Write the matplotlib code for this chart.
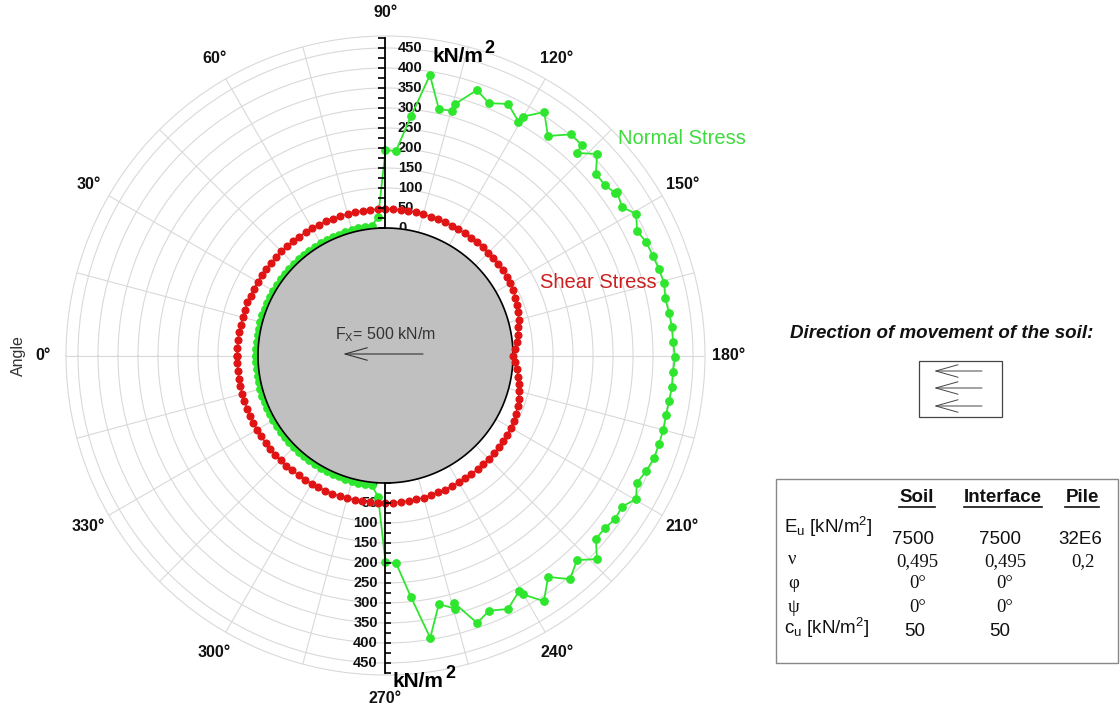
import numpy as np
import matplotlib
matplotlib.use('Agg')
import matplotlib.pyplot as plt
from matplotlib.patches import Rectangle

plt.rcParams['font.family'] = ['Liberation Sans', 'DejaVu Sans']
plt.rcParams['mathtext.fontset'] = 'custom'
plt.rcParams['mathtext.rm'] = 'Liberation Sans'
plt.rcParams['mathtext.it'] = 'Liberation Sans:italic'
plt.rcParams['mathtext.bf'] = 'Liberation Sans:bold'
plt.rcParams['mathtext.default'] = 'regular'

# ---------------- data ----------------
normal_angles = [0, 3, 6, 9, 12, 15, 18, 21, 24, 27, 30, 33, 36, 39, 42, 45, 48, 51, 54, 57,
                 60, 63, 66, 69, 72, 75, 78, 81, 84, 87,
                 90, 92.9, 96.1, 99.0, 102.2, 105.3, 105.5, 109.0, 112.3, 116.0, 119.6, 119.9,
                 123.1, 126.5, 130.0, 133.0, 133.4, 136.4, 139.2, 142.2, 144.6, 144.9, 147.9,
                 150.5, 153.7, 156.5, 159.6, 162.4, 165.4, 168.4, 171.5, 174.3, 177.3, 180.3,
                 183.3, 186.3, 189.1, 192.0, 195.0, 197.9, 200.9, 203.9, 206.9, 209.8, 212.6,
                 215.5, 218.2, 221.1, 223.9, 226.9, 230.5, 233.7, 237.2, 240.1, 240.4, 244.2,
                 247.9, 251.1, 254.5, 254.7, 257.9, 261.0, 264.0, 267.1, 270.0, 273.0,
                 276, 279, 282, 285, 288, 291, 294, 297, 300, 303, 306, 309, 312, 315, 318,
                 321, 324, 327, 330, 333, 336, 339, 342, 345, 348, 351, 354, 357]
normal_values = [5, 5, 5, 5, 5, 5, 5, 5, 5, 5, 5, 5, 5, 5, 5, 5, 5, 5, 5, 5,
                 5, 5, 5, 5, 5, 6, 6, 7, 8, 29,
                 195, 193, 283, 391, 312, 315, 334, 383, 363, 381, 354, 370,
                 408, 364, 403, 401, 378, 412, 376, 376, 384, 390, 379,
                 401, 383, 392, 395, 398, 401, 395, 398, 401, 401, 405,
                 401, 402, 399, 398, 400, 400, 400, 394, 386, 403, 383,
                 386, 379, 379, 415, 382, 406, 368, 412, 370, 358, 385,
                 370, 388, 323, 337, 317, 396, 288, 201, 198, 35,
                 8, 7, 6, 6, 5, 5, 5, 5, 5, 5, 5, 5, 5, 5, 5,
                 5, 5, 5, 5, 5, 5, 5, 5, 5, 5, 5, 5, 5]

shear_angles = list(range(0, 360, 3))
shear_values = [52, 52, 52, 52, 51, 51, 51, 51, 50, 50,
                50, 50, 50, 49, 49, 49, 49, 48, 48, 48,
                48, 48, 48, 47, 47, 47, 47, 47, 47, 47,
                47, 47, 47, 47, 47, 47, 46, 46, 46, 46,
                46, 45, 45, 45, 45, 44, 44, 44, 44, 43,
                42, 40, 37, 34, 30, 26, 21, 16, 11, 5,
                1, 6, 12, 17, 22, 27, 31, 35, 38, 41,
                43, 44, 45, 45, 46, 46, 46, 47, 47, 47,
                47, 48, 48, 48, 48, 49, 49, 49, 49, 50,
                50, 50, 50, 50, 50, 51, 51, 51, 51, 51,
                51, 51, 51, 51, 52, 52, 52, 52, 52, 52,
                52, 52, 52, 52, 52, 52, 52, 52, 52, 52]

radial_labels = [0, 50, 100, 150, 200, 250, 300, 350, 400, 450]
radial_minor = [0, 25, 50, 75, 100, 125, 150, 175, 200, 225, 250, 275, 300, 325,
                350, 375, 400, 425, 450, 475]
theta_label_angles = [0, 30, 60, 90, 120, 150, 180, 210, 240, 270, 300, 330]
theta_grid_angles = list(range(0, 360, 15))

table_cols = ['Soil', 'Interface', 'Pile']
table_Eu = ['7500', '7500', '32E6']
table_nu = ['0,495', '0,495', '0,2']
table_phi = ['0°', '0°']
table_psi = ['0°', '0°']
table_cu = ['50', '50']

GREEN = '#2fe62f'
RED = '#e01414'
GRID = '#d9d9d9'

# ---------------- figure ----------------
W, H = 1120, 706
fig = plt.figure(figsize=(W / 100, H / 100), dpi=100)
cx, cy, R = 385.5, 355.5, 319.5
ax = fig.add_axes([(cx - R) / W, (H - cy - R) / H, 2 * R / W, 2 * R / H], projection='polar')
ax.set_theta_zero_location('W')
ax.set_theta_direction(-1)
ax.set_rlim(0, 480)
ax.set_rorigin(-318.75)
ax.set_rgrids(radial_labels[1:], labels=[''] * (len(radial_labels) - 1))
ax.set_thetagrids(theta_grid_angles, labels=[''] * len(theta_grid_angles))
ax.grid(True, color=GRID, lw=0.8)
for sp in ax.spines.values():
    sp.set_color(GRID)
    sp.set_linewidth(0.8)
ax.tick_params(length=0)

for a in theta_label_angles:
    ax.text(np.deg2rad(a), 538, f'{a}°', ha='center', va='center', fontsize=11.5,
            fontweight='bold', color='#111111', clip_on=False)

# stresses
th_n = np.deg2rad(normal_angles + normal_angles[:1])
ax.plot(th_n, normal_values + normal_values[:1], color=GREEN, lw=1.3, marker='o', ms=5.3,
        zorder=3, clip_on=False)

th_pile = np.linspace(0, 2 * np.pi, 361)
ax.fill(th_pile, np.zeros_like(th_pile), facecolor='#c0c0c0', edgecolor='black', lw=1.2,
        zorder=4, clip_on=False)

th_s = np.deg2rad(shear_angles + shear_angles[:1])
ax.plot(th_s, shear_values + shear_values[:1], color=RED, lw=1.0, marker='o', ms=4.8,
        zorder=5, clip_on=False)

# radial value axes (top and bottom)
up, down = np.pi / 2, 3 * np.pi / 2
ax.plot([up, up], [0, 475], color='black', lw=1.3, zorder=6, clip_on=False)
ax.plot([down, down], [0, 475], color='black', lw=1.3, zorder=6, clip_on=False)
ax.plot([up] * len(radial_minor), radial_minor, ls='none', marker=0, ms=5, mew=1.2,
        color='black', zorder=6, clip_on=False)
ax.plot([down] * len(radial_minor), radial_minor, ls='none', marker=1, ms=4, mew=1.2,
        color='black', zorder=6, clip_on=False)
for v in radial_labels:
    ax.annotate(str(v), xy=(up, v), xytext=(9, 0), textcoords='offset points', ha='left',
                va='center', fontsize=10.5, fontweight='bold', color='#111111', zorder=2.5)
    ax.annotate(str(v), xy=(down, v), xytext=(-5.5, 0), textcoords='offset points', ha='right',
                va='center', fontsize=10.5, fontweight='bold', color='#111111', zorder=2.5)

# ---------------- overlay in pixel coordinates ----------------
ov = fig.add_axes([0, 0, 1, 1], zorder=10)
ov.set_xlim(0, W)
ov.set_ylim(H, 0)
ov.axis('off')

# units
ov.text(432, 62, 'kN/m', fontsize=15, fontweight='bold', ha='left', va='baseline')
ov.text(484, 53, '2', fontsize=13, fontweight='bold', ha='left', va='baseline')
ov.text(393, 687, 'kN/m', fontsize=15, fontweight='bold', ha='left', va='baseline')
ov.text(445, 678, '2', fontsize=13, fontweight='bold', ha='left', va='baseline')

ov.text(18, 356, 'Angle', rotation=90, ha='center', va='center', fontsize=11.5, color='#333333')

# load on pile
ov.text(386, 335, 'F$_X$= 500 kN/m', ha='center', va='center', fontsize=11.5, color='#333333')
ov.annotate('', xy=(343, 354), xytext=(423, 354),
            arrowprops=dict(arrowstyle='->,head_length=1.6,head_width=0.45', lw=0.8,
                            color='#333333', shrinkA=0, shrinkB=0))

# series labels
ov.text(618, 138, 'Normal Stress', ha='left', va='center', fontsize=14.5, color='#3ddc3d')
ov.text(540, 282, 'Shear Stress', ha='left', va='center', fontsize=14.5, color='#cc2020')

# direction of soil movement
ov.text(790, 333, 'Direction of movement of the soil:', ha='left', va='center', fontsize=13.5,
        fontweight='bold', style='italic', color='#111111')
ov.add_patch(Rectangle((919, 361), 83, 56, fill=False, ec='#444444', lw=0.9))
for yy in (371, 388, 406):
    ov.annotate('', xy=(934, yy), xytext=(982, yy),
                arrowprops=dict(arrowstyle='->,head_length=1.6,head_width=0.45', lw=0.7,
                                color='#444444', shrinkA=0, shrinkB=0))

# material table
ov.add_patch(Rectangle((775.5, 478.5), 342, 184, fill=False, ec='#888888', lw=1.0))
col_x = [917, 1003, 1082]
col_half = [18, 39, 17]
for name, x, hw in zip(table_cols, col_x, col_half):
    ov.text(x, 497, name, ha='center', va='center', fontsize=13.5, fontweight='bold',
            color='#111111')
    ov.plot([x - hw, x + hw], [507, 507], color='#111111', lw=1.2)

ov.text(784, 527, 'E$_u$ [kN/m$^2$]', ha='left', va='center', fontsize=13.5, color='#111111')
for s, x in zip(table_Eu, [913, 1000, 1080]):
    ov.text(x, 539, s, ha='center', va='center', fontsize=13.5, color='#111111')

ov.text(788, 559, 'ν', ha='left', va='center', fontsize=13.5, family='Liberation Serif',
        color='#111111')
for s, x in zip(table_nu, [917, 1005, 1083]):
    ov.text(x, 562, s, ha='center', va='center', fontsize=13.5, family='Liberation Serif',
            color='#111111')

ov.text(788, 584, 'φ', ha='left', va='center', fontsize=13.5, family='Liberation Serif',
        color='#111111')
for s, x in zip(table_phi, [918, 1005]):
    ov.text(x, 584, s, ha='center', va='center', fontsize=13.5, family='Liberation Serif',
            color='#111111')

ov.text(788, 607, 'ψ', ha='left', va='center', fontsize=13.5, family='Liberation Serif',
        color='#111111')
for s, x in zip(table_psi, [918, 1005]):
    ov.text(x, 607, s, ha='center', va='center', fontsize=13.5, family='Liberation Serif',
            color='#111111')

ov.text(784, 628, 'c$_u$ [kN/m$^2$]', ha='left', va='center', fontsize=13.5, color='#111111')
for s, x in zip(table_cu, [915, 1000]):
    ov.text(x, 631, s, ha='center', va='center', fontsize=13.5, color='#111111')

fig.savefig('out.png', dpi=100)
